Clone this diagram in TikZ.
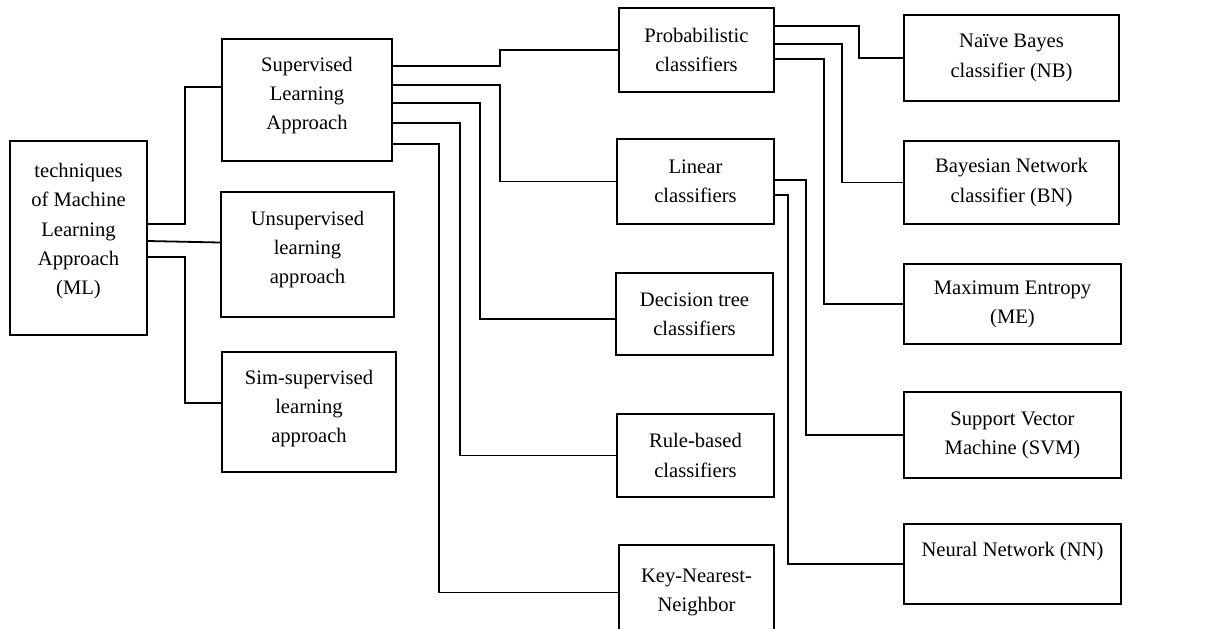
\documentclass[tikz,border=0pt]{standalone}
\usepackage{fontspec}
\setmainfont{Liberation Serif}
\usetikzlibrary{calc}
\tikzset{
  box/.style={draw, line width=0.9pt, align=center, inner sep=2pt,
    font=\fontsize{10.3}{14.6}\selectfont},
  link/.style={line width=0.9pt},
}
% empty trailing line that pushes the text a little above the middle
\newcommand\liftby[1]{\\[#1]\mbox{}}

\begin{document}
\begin{tikzpicture}[x=0.5pt, y=-0.5pt]
\useasboundingbox (0,0) rectangle (1216,628);
\clip (0,0) rectangle (1216,628);

%% ─── Boxes (name / centre / width / height / text) ──────────────────────────
\foreach \n/\cx/\cy/\w/\h/\txt in {
  ml/78.5/238/137/194/{techniques\\of Machine\\Learning\\Approach\\(ML)\liftby{-5.6pt}},
  sup/307/100/170/122/{Supervised\\Learning\\Approach\liftby{-7.9pt}},
  unsup/307.5/254.5/173/125/{Unsupervised\\learning\\approach\liftby{-7.4pt}},
  semi/309/412/174/120/{Sim-supervised\\learning\\approach\liftby{-8.9pt}},
  prob/696.5/50/155/84/{Probabilistic\\classifiers},
  lin/695.5/181.5/157/85/{Linear\\classifiers},
  dtree/694.5/314/157/82/{Decision tree\\classifiers},
  rule/695.5/455.5/157/83/{Rule-based\\classifiers},
  knn/696.5/592.5/155/95/{Key-Nearest-\\Neighbor},
  nb/1011.5/58/215/86/{Naïve Bayes\\classifier (NB)},
  bn/1011.5/182.5/215/83/{Bayesian Network\\classifier (BN)},
  me/1012.5/304/217/80/{Maximum Entropy\\(ME)},
  svm/1012.5/435/217/86/{Support Vector\\Machine (SVM)},
  nn/1012.5/564/217/80/{Neural Network (NN)\\\mbox{}}} {
  \node[box, minimum width=\w*0.5pt, minimum height=\h*0.5pt] (\n) at (\cx,\cy) {\txt};
}

%% ─── Elbow connectors (source / offset / run / target / offset) ─────────────
\foreach \src/\dy/\run/\dst/\ey in {
  ml/-14/37/sup/-13,
  ml/19/37/semi/-9,
  sup/-34/107/prob/0,
  sup/-15/107/lin/0,
  sup/3/87/dtree/5,
  sup/23/67/rule/0,
  sup/44/46/knn/0,
  prob/-24/84/nb/0,
  prob/-6/67/bn/0,
  prob/9/49/me/0,
  lin/-1.5/31/svm/0,
  lin/13.5/13/nn/0} {
  \draw[link] ($(\src.east)+(0,\dy)$) -- ++(\run,0) |- ($(\dst.west)+(0,\ey)$);
}

% straight one to the unsupervised box
\draw[link] ($(ml.east)+(0,3)$) -- ($(unsup.west)+(0,-12)$);

\end{tikzpicture}
\end{document}
